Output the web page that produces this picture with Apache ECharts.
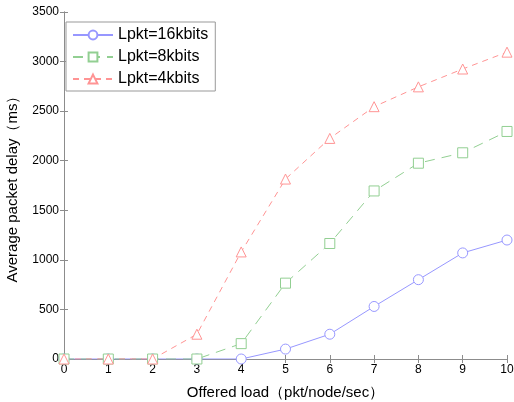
<!DOCTYPE html>
<html><head><meta charset="utf-8">
<script src="https://cdn.jsdelivr.net/npm/echarts@6/dist/echarts.min.js"></script>
<style>html,body{margin:0;padding:0;background:#fff}#c{width:514px;height:402px}</style>
</head><body><div id="c"></div>
<script>
const xValues = [0,1,2,3,4,5,6,7,8,9,10];
const seriesNames = ['Lpkt=16kbits','Lpkt=8kbits','Lpkt=4kbits'];
const delay16 = [0,0,0,0,0,100,250,530,800,1070,1200];
const delay8  = [0,0,0,0,155,765,1165,1695,1975,2080,2295];
const delay4  = [0,0,0,250,1080,1815,2225,2545,2745,2925,3095];
const yTicks = [0,500,1000,1500,2000,2500,3000,3500];

const pair = arr => xValues.map((x,i)=>[x,arr[i]]);
const font = 'Liberation Sans, Arial, sans-serif';
const axisCol = '#8c8c8c';
const chart = echarts.init(document.getElementById('c'));
const mk = (name, data, color, symbol, dash) => ({
  name, type:'line', data: pair(data), symbol, symbolSize: 10,
  lineStyle:{color, width:1, type: dash},
  itemStyle:{color:'#fff', borderColor: color, borderWidth:1},
  emphasis:{disabled:true}, animation:false
});
chart.setOption({
  animation:false,
  grid:{left:64, right:7, top:12, bottom:43, containLabel:false, outerBoundsMode:'none'},
  legend:{
    left:66, top:22, orient:'vertical', itemGap:6, itemWidth:40, itemHeight:11,
    padding:[5,7,4,6], borderColor:'#999', borderWidth:1, backgroundColor:'#fff',
    textStyle:{fontFamily:font, fontSize:16, color:'#000'},
    data: seriesNames
  },
  xAxis:[{
    type:'value', min:0, max:10, interval:1,
    name:'Offered load（pkt/node/sec）', nameLocation:'middle', nameGap:26,
    nameTextStyle:{fontFamily:font, fontSize:15, color:'#000'},
    axisLine:{lineStyle:{color:axisCol}}, axisTick:{inside:true, length:4, lineStyle:{color:axisCol}},
    axisLabel:{fontFamily:font, fontSize:12, color:'#000', margin:5},
    splitLine:{show:false}
  },{
    type:'value', min:0, max:10, interval:1, position:'top',
    axisLine:{lineStyle:{color:axisCol}}, axisTick:{inside:true, length:4, lineStyle:{color:axisCol}},
    axisLabel:{show:false}, splitLine:{show:false}
  }],
  yAxis:[{
    type:'value', min:0, max:3500, interval:500,
    name:'Average packet delay（ms）', nameLocation:'middle', nameGap:44,
    nameTextStyle:{fontFamily:font, fontSize:15, color:'#000'},
    axisLine:{show:true, lineStyle:{color:axisCol}}, axisTick:{show:true, inside:true, length:4, lineStyle:{color:axisCol}},
    axisLabel:{fontFamily:font, fontSize:12, color:'#000', margin:5, formatter: v => yTicks.includes(v) ? String(v) : ''},
    splitLine:{show:false}
  },{
    type:'value', min:0, max:3500, interval:500, position:'right',
    axisLine:{show:true, lineStyle:{color:axisCol}}, axisTick:{show:true, inside:true, length:4, lineStyle:{color:axisCol}},
    axisLabel:{show:false}, splitLine:{show:false}
  }],
  series:[
    mk(seriesNames[0], delay16, '#9797ff', 'circle', 'solid'),
    mk(seriesNames[1], delay8, '#92cf92', 'rect', [10,7]),
    mk(seriesNames[2], delay4, '#ff9494', 'triangle', [6,5])
  ]
});
</script></body></html>
